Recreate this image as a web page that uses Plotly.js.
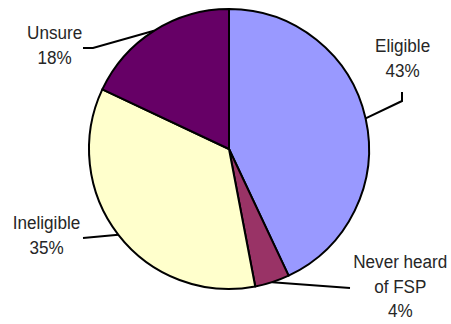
<!DOCTYPE html>
<html>
<head>
<meta charset="utf-8">
<script src="https://cdn.plot.ly/plotly-3.0.1.min.js"></script>
<style>
html,body{margin:0;padding:0;background:#fff;}
#chart{width:451px;height:324px;}
#chart .annotation-text{transform-box:fill-box;transform-origin:center;transform:scaleX(0.9);}
</style>
</head>
<body>
<div id="chart"></div>
<script>
// Data
const categories = ['Eligible', 'Never heard of FSP', 'Ineligible', 'Unsure'];
const values = [43, 4, 35, 18];
const colors = ['#9999FF', '#993366', '#FFFFCC', '#660066'];

// Layout geometry (pixels)
const W = 451, H = 324;
const cx = 229, cy = 149, R = 140;
const FONT = '"Liberation Sans", Arial, sans-serif';

// label placement (px) and leader line elbows, per slice (style only)
const labelPos = [
  {x: 402, y: 58, path: [[402, 101], [402, 92]]},
  {x: 400, y: 286, path: [[350, 288]]},
  {x: 46, y: 235, path: [[83, 238]]},
  {x: 54, y: 45, path: [[93, 48], [83, 48]]}
];

const px = x => x / W;
const py = y => 1 - y / H;

const total = values.reduce((a, b) => a + b, 0);
let cum = 0;
const annotations = [];
const shapes = [];
values.forEach((v, i) => {
  const mid = (cum + v / 2) / total * 2 * Math.PI;
  cum += v;
  const sx = cx + R * Math.sin(mid);
  const sy = cy - R * Math.cos(mid);
  const pts = [[sx, sy]].concat(labelPos[i].path);
  const d = pts.map((p, k) => (k ? 'L' : 'M') + px(p[0]).toFixed(5) + ',' + py(p[1]).toFixed(5)).join(' ');
  shapes.push({type: 'path', xref: 'paper', yref: 'paper', path: d, line: {color: '#000', width: 2}});
  const pct = Math.round(v / total * 100);
  annotations.push({
    xref: 'paper', yref: 'paper', x: px(labelPos[i].x), y: py(labelPos[i].y),
    xanchor: 'center', yanchor: 'middle', showarrow: false,
    text: categories[i].replace('heard ', 'heard<br>') + '<br>' + pct + '%',
    font: {family: FONT, size: 19, color: '#262626'}
  });
});

const data = [{
  type: 'pie',
  labels: categories,
  values: values,
  sort: false,
  direction: 'clockwise',
  rotation: 0,
  textinfo: 'none',
  hoverinfo: 'label+percent',
  marker: {colors: colors, line: {color: '#000', width: 2}},
  domain: {x: [(cx - R) / W, (cx + R) / W], y: [1 - (cy + R) / H, 1 - (cy - R) / H]}
}];

const layout = {
  width: W, height: H,
  margin: {l: 0, r: 0, t: 0, b: 0},
  showlegend: false,
  paper_bgcolor: '#fff',
  annotations: annotations,
  shapes: shapes
};

Plotly.newPlot('chart', data, layout, {displayModeBar: false, staticPlot: true});
</script>
</body>
</html>
